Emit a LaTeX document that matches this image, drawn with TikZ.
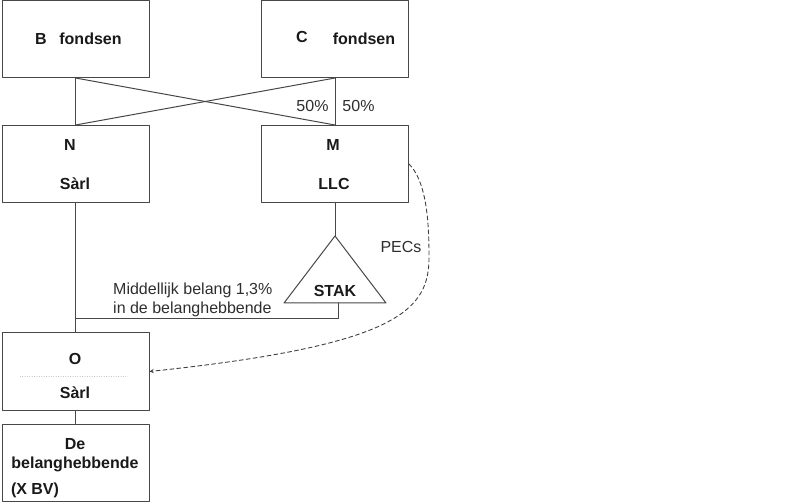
\documentclass[tikz,border=0pt]{standalone}
\usepackage{fontspec}
\setmainfont{Liberation Sans}
\begin{document}
\fontsize{16}{19}\selectfont
\begin{tikzpicture}[line cap=round,line join=round,>=stealth,x=1pt,y=-1pt,
	box/.style={draw=black!72,line width=1pt,minimum width=147pt,minimum height=77pt,inner sep=0pt},
	boxtext/.style={font=\bfseries,anchor=base,inner sep=0pt,text=black!90},
	note/.style={anchor=base,inner sep=0pt,text=black!82},
	link/.style={draw=black!72,line width=1pt}]
	\useasboundingbox (0,0) rectangle (800,502);
	\node[box] (b) at (75.5,39) {};
	\node[box] (c) at (335,39) {};
	\node[box] (n) at (75.5,164) {};
	\node[box] (m) at (335,164) {};
	\node[box] (o) at (75.5,371.5) {};
	\node[box] (de) at (75.5,462.5) {};
	\node[boxtext] at (41,45) {B};
	\node[boxtext] at (90.5,45) {fondsen};
	\node[boxtext] at (302,43) {C};
	\node[boxtext] at (364,45) {fondsen};
	\node[boxtext] at (70,151) {N};
	\node[boxtext] at (75,190) {Sàrl};
	\node[boxtext] at (333,151) {M};
	\node[boxtext] at (334,190) {LLC};
	\node[boxtext] at (75,364) {O};
	\node[boxtext] at (75,398) {Sàrl};
	\node[boxtext] at (75,449) {De};
	\node[boxtext] at (75,468) {belanghebbende};
	\node[boxtext] at (35,494) {(X BV)};
	\draw[black!30,dotted] (20,376) -- (128,376);
	\path[link] (b.south) -- (n.north);
	\path[link] (c.south) -- (m.north);
	\path[link] (b.south) -- (m.north);
	\path[link] (c.south) -- (n.north);
	\node[note] at (312.5,112) {50\%};
	\node[note] at (358.5,112) {50\%};
	% STAK
	\path[link] (335,236) coordinate (staktop) -- (386,303) -- (284,303) -- cycle;
	\node[boxtext] (stak) at (335,297) {STAK};
	\coordinate (stakfoot) at (338,303);
	\coordinate (join) at (75.5,319);
	\path[link] (m.south) -- (staktop);
	\path[link] (n.south) -- (o.north);
	\path[link] (o.south) -- (de.north);
	\path[link] (stakfoot) |- (join);
	\node[note,anchor=base west] at (113,295) {Middellijk belang 1,3\%};
	\node[note,anchor=base west] at (113,314) {in de belanghebbende};
	\node[note] at (401,253) {PECs};
	\draw[->,black!75,line width=0.9pt,dash pattern=on 4pt off 3pt] (m.east) .. controls (425,180) and (429,215) .. (429,255)
		.. controls (430,310) and (400,345) .. (o.east);
\end{tikzpicture}
\end{document}
